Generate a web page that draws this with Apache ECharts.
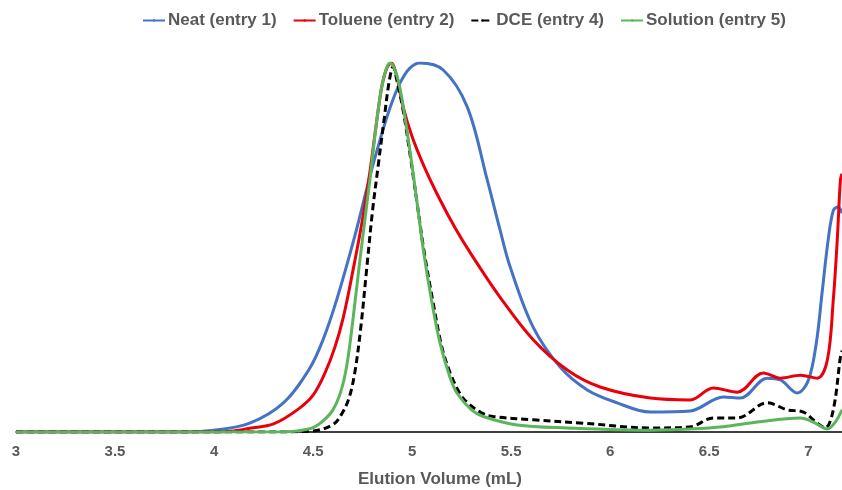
<!DOCTYPE html>
<html>
<head>
<meta charset="utf-8">
<script src="https://cdn.jsdelivr.net/npm/echarts@6/dist/echarts.min.js"></script>
<style>
html,body{margin:0;padding:0;background:#fff;}
#chart{width:842px;height:490px;}
</style>
</head>
<body>
<div id="chart"></div>
<script>
const seriesNames = ["Neat (entry 1)", "Toluene (entry 2)", "DCE (entry 4)", "Solution (entry 5)"];
const xTicks = ["3", "3.5", "4", "4.5", "5", "5.5", "6", "6.5", "7"];

const neatX = [3.0, 3.8, 4.0, 4.18, 4.35, 4.48, 4.55, 4.62, 4.71, 4.823, 4.939, 5.04, 5.157, 5.278, 5.379, 5.444, 5.495, 5.61, 5.747, 5.884, 6.035, 6.202, 6.404, 6.571, 6.657, 6.793, 6.859, 6.944, 7.0, 7.04, 7.07, 7.1, 7.126, 7.15, 7.17];
const neatY = [0, 0, 0.005, 0.024, 0.079, 0.17, 0.25, 0.36, 0.53, 0.764, 0.946, 1.0, 0.981, 0.881, 0.683, 0.547, 0.447, 0.285, 0.176, 0.114, 0.079, 0.054, 0.057, 0.095, 0.092, 0.146, 0.141, 0.106, 0.14, 0.24, 0.38, 0.52, 0.60, 0.61, 0.593];

const tolX = [3.0, 4.0, 4.1, 4.18, 4.3, 4.42, 4.5, 4.56, 4.61, 4.652, 4.702, 4.747, 4.788, 4.823, 4.848, 4.874, 4.894, 4.924, 4.955, 5.0, 5.06, 5.14, 5.22, 5.3, 5.444, 5.611, 5.783, 5.949, 6.202, 6.404, 6.52, 6.641, 6.773, 6.859, 6.96, 7.045, 7.096, 7.126, 7.146, 7.162, 7.17];
const tolY = [0, 0, 0.003, 0.01, 0.022, 0.06, 0.1, 0.16, 0.23, 0.31, 0.44, 0.569, 0.71, 0.851, 0.94, 0.989, 1.0, 0.96, 0.88, 0.80, 0.72, 0.63, 0.55, 0.48, 0.365, 0.25, 0.168, 0.122, 0.092, 0.087, 0.119, 0.108, 0.16, 0.146, 0.154, 0.146, 0.195, 0.358, 0.52, 0.683, 0.70];

const dceX = [3.0, 4.3, 4.5, 4.6, 4.64, 4.68, 4.71, 4.74, 4.77, 4.8, 4.828, 4.859, 4.884, 4.904, 4.924, 4.955, 4.99, 5.025, 5.06, 5.106, 5.15, 5.192, 5.24, 5.278, 5.35, 5.409, 5.611, 5.864, 6.202, 6.404, 6.52, 6.641, 6.793, 6.894, 6.975, 7.045, 7.086, 7.126, 7.162, 7.17];
const dceY = [0, 0, 0.003, 0.02, 0.045, 0.09, 0.16, 0.28, 0.44, 0.6, 0.72, 0.85, 0.95, 0.99, 0.95, 0.87, 0.75, 0.62, 0.49, 0.35, 0.23, 0.16, 0.105, 0.08, 0.052, 0.042, 0.033, 0.024, 0.011, 0.014, 0.038, 0.038, 0.079, 0.06, 0.054, 0.024, 0.011, 0.06, 0.203, 0.22];

const solX = [3.0, 4.3, 4.42, 4.5, 4.55, 4.6, 4.64, 4.67, 4.70, 4.737, 4.788, 4.818, 4.843, 4.869, 4.889, 4.914, 4.939, 4.97, 5.0, 5.03, 5.06, 5.1, 5.141, 5.19, 5.227, 5.3, 5.359, 5.53, 5.783, 6.202, 6.404, 6.571, 6.742, 6.96, 7.025, 7.096, 7.136, 7.17];
const solY = [0, 0, 0.003, 0.012, 0.03, 0.06, 0.11, 0.18, 0.3, 0.47, 0.69, 0.83, 0.925, 0.984, 1.0, 0.98, 0.93, 0.83, 0.72, 0.6, 0.48, 0.35, 0.24, 0.15, 0.105, 0.06, 0.042, 0.019, 0.011, 0.005, 0.008, 0.014, 0.027, 0.038, 0.027, 0.008, 0.027, 0.06];

const colors = ["#4472C4", "#E8000B", "#000000", "#5CB45C"];

function zip(xs, ys) { return xs.map((x, i) => [x, ys[i]]); }

const chart = echarts.init(document.getElementById('chart'));
const textColor = '#595959';
const font = 'Liberation Sans, Arial, sans-serif';

const datasets = [zip(neatX, neatY), zip(tolX, tolY), zip(dceX, dceY), zip(solX, solY)];
const solidIcon = 'path://M0,0h22v3h-22z';
const dashIcon = 'path://M0,0h9v3h-9z M13,0h9v3h-9z';

chart.setOption({
  animation: false,
  color: colors,
  legend: {
    top: 7,
    left: 137,
    itemWidth: 22,
    itemHeight: 3,
    itemGap: 16,
    textStyle: { color: textColor, fontSize: 17, fontWeight: 'bold', fontFamily: font, padding: [0, 0, 0, -2] },
    data: seriesNames
  },
  grid: { left: 16, right: 0, top: 63, bottom: 58, containLabel: false, outerBoundsMode: 'none' },
  xAxis: {
    type: 'value',
    min: 3,
    max: 7.17,
    interval: 0.5,
    name: 'Elution Volume (mL)',
    nameLocation: 'middle',
    nameGap: 39,
    nameTextStyle: { color: textColor, fontSize: 17, fontWeight: 'bold', fontFamily: font, padding: [0, 0, 0, 22] },
    axisLine: { show: true, lineStyle: { color: '#000', width: 1.5 } },
    axisTick: { show: false },
    splitLine: { show: false },
    axisLabel: {
      color: textColor, fontSize: 15, fontWeight: 'bold', fontFamily: font, margin: 12,
      showMaxLabel: false,
      formatter: function (v) {
        const s = String(Math.round(v * 10) / 10);
        return xTicks.indexOf(s) >= 0 ? s : '';
      }
    }
  },
  yAxis: {
    type: 'value', min: 0, max: 1, show: false,
    splitLine: { show: false }
  },
  series: seriesNames.map((name, i) => ({
    name: name,
    type: 'line',
    data: datasets[i],
    smooth: 0.35,
    symbol: 'none',
    showSymbol: false,
    legendIcon: i === 2 ? dashIcon : solidIcon,
    itemStyle: { color: colors[i] },
    lineStyle: {
      color: colors[i],
      width: 3,
      type: i === 2 ? [7, 4] : 'solid'
    }
  }))
});
</script>
</body>
</html>
